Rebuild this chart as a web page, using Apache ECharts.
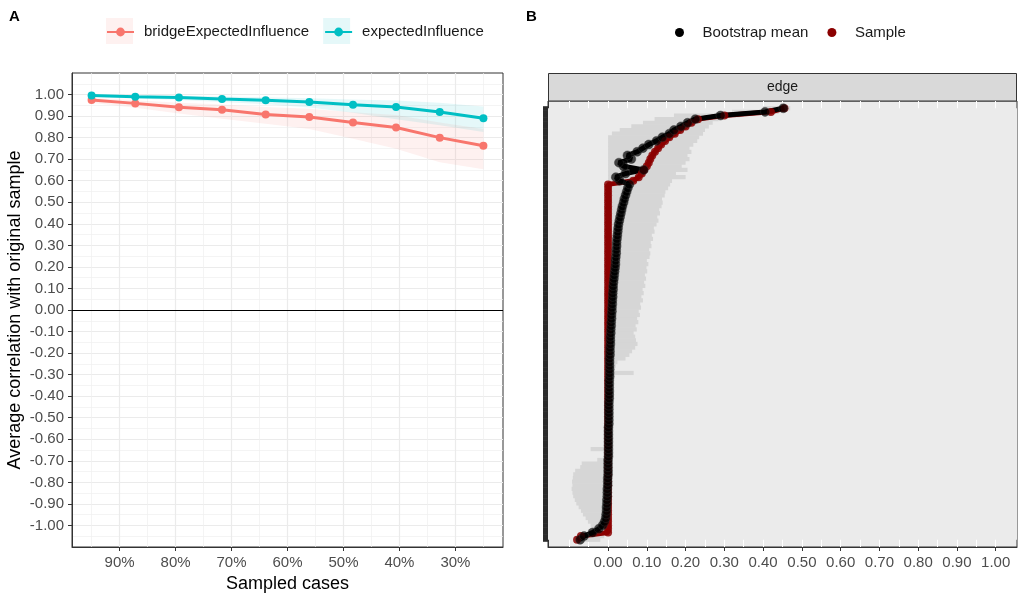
<!DOCTYPE html>
<html>
<head>
<meta charset="utf-8">
<script src="https://cdn.jsdelivr.net/npm/echarts@6/dist/echarts.min.js"></script>
<style>
  html, body { margin: 0; padding: 0; background: #fff; }
  #chart { width: 1021px; height: 598px; }
</style>
</head>
<body>
<div id="chart"></div>
<script>
// ---- Panel A: case-dropping stability (average correlation with original sample)
const sampledCases = [95.0, 87.2, 79.4, 71.7, 63.9, 56.1, 48.3, 40.6, 32.8, 25.0];
const bridgeCor = [0.975, 0.959, 0.941, 0.929, 0.907, 0.896, 0.870, 0.847, 0.800, 0.762];
const bridgeLo  = [0.962, 0.939, 0.912, 0.888, 0.865, 0.840, 0.795, 0.748, 0.686, 0.653];
const bridgeHi  = [0.984, 0.974, 0.962, 0.954, 0.942, 0.934, 0.918, 0.905, 0.870, 0.840];
const eiCor = [0.995, 0.990, 0.986, 0.979, 0.974, 0.965, 0.953, 0.942, 0.919, 0.890];
const eiLo  = [0.990, 0.982, 0.975, 0.965, 0.955, 0.940, 0.915, 0.885, 0.858, 0.826];
const eiHi  = [0.998, 0.996, 0.994, 0.991, 0.988, 0.983, 0.977, 0.972, 0.962, 0.944];
const xTicksA = [90, 80, 70, 60, 50, 40, 30];
const xGridMinorA = [95, 85, 75, 65, 55, 45, 35, 25];
const yTicksA = [-1.0, -0.9, -0.8, -0.7, -0.6, -0.5, -0.4, -0.3, -0.2, -0.1, 0.0,
                 0.1, 0.2, 0.3, 0.4, 0.5, 0.6, 0.7, 0.8, 0.9, 1.0];

// ---- Panel B: edge weights, edges ordered by sample value (bottom -> top)
const edgeSample = [
  -0.080, -0.070, 0.000, 0.000, 0.000, 0.000, 0.000, 0.000, 0.000, 0.000,
  0.000, 0.000, 0.000, 0.000, 0.000, 0.000, 0.000, 0.000, 0.000, 0.000,
  0.000, 0.000, 0.000, 0.000, 0.000, 0.000, 0.000, 0.000, 0.000, 0.000,
  0.000, 0.000, 0.000, 0.000, 0.000, 0.000, 0.000, 0.000, 0.000, 0.000,
  0.000, 0.000, 0.000, 0.000, 0.000, 0.000, 0.000, 0.000, 0.000, 0.000,
  0.000, 0.000, 0.000, 0.000, 0.000, 0.000, 0.000, 0.000, 0.000, 0.000,
  0.000, 0.000, 0.000, 0.000, 0.000, 0.000, 0.000, 0.000, 0.000, 0.000,
  0.000, 0.000, 0.000, 0.000, 0.000, 0.000, 0.000, 0.000, 0.000, 0.000,
  0.000, 0.000, 0.000, 0.000, 0.000, 0.000, 0.000, 0.000, 0.000, 0.000,
  0.000, 0.000, 0.000, 0.000, 0.000, 0.000, 0.000, 0.000, 0.000, 0.065,
  0.079, 0.087, 0.093, 0.100, 0.105, 0.109, 0.114, 0.121, 0.129, 0.137,
  0.147, 0.158, 0.172, 0.186, 0.200, 0.215, 0.232, 0.300, 0.420, 0.455
];
const edgeBootMean = [
  -0.072, -0.062, -0.040, -0.024, -0.014, -0.009, -0.006, -0.005, -0.004, -0.004,
  -0.003, -0.003, -0.002, -0.002, -0.002, -0.001, -0.001, -0.001, 0.000, 0.000,
  0.000, 0.000, 0.000, 0.001, 0.001, 0.001, 0.001, 0.001, 0.001, 0.001,
  0.001, 0.001, 0.002, 0.002, 0.002, 0.002, 0.002, 0.002, 0.002, 0.003,
  0.003, 0.003, 0.003, 0.003, 0.003, 0.004, 0.004, 0.004, 0.004, 0.004,
  0.004, 0.005, 0.005, 0.005, 0.006, 0.006, 0.006, 0.007, 0.007, 0.008,
  0.008, 0.009, 0.009, 0.010, 0.010, 0.011, 0.011, 0.012, 0.012, 0.013,
  0.013, 0.014, 0.015, 0.016, 0.017, 0.018, 0.019, 0.019, 0.020, 0.021,
  0.021, 0.022, 0.022, 0.023, 0.024, 0.025, 0.026, 0.027, 0.029, 0.031,
  0.033, 0.035, 0.037, 0.040, 0.042, 0.045, 0.048, 0.051, 0.055, 0.030,
  0.020, 0.045, 0.092, 0.040, 0.028, 0.060, 0.050, 0.075, 0.090, 0.105,
  0.125, 0.140, 0.158, 0.170, 0.188, 0.205, 0.225, 0.290, 0.405, 0.452
];
const edgeCiLo = [
  -0.080, -0.072, -0.050, -0.042, -0.045, -0.052, -0.058, -0.065, -0.070, -0.076,
  -0.082, -0.086, -0.090, -0.092, -0.094, -0.092, -0.093, -0.091, -0.090, -0.085,
  -0.072, -0.068, -0.028, 0.000, 0.000, -0.045, 0.000, 0.000, 0.000, 0.000,
  0.000, 0.000, 0.000, 0.000, 0.000, 0.000, 0.000, 0.000, 0.000, 0.000,
  0.000, 0.000, 0.000, 0.000, 0.000, 0.000, 0.000, 0.000, 0.000, 0.000,
  0.000, 0.000, 0.000, 0.000, 0.000, 0.000, 0.000, 0.000, 0.000, 0.000,
  0.000, 0.000, 0.000, 0.000, 0.000, 0.000, 0.000, 0.000, 0.000, 0.000,
  0.000, 0.000, 0.000, 0.000, 0.000, 0.000, 0.000, 0.000, 0.000, 0.000,
  0.000, 0.000, 0.000, 0.000, 0.000, 0.000, 0.000, 0.000, 0.000, 0.000,
  0.000, 0.000, 0.000, 0.000, 0.000, 0.000, 0.000, 0.000, 0.000, 0.000,
  0.000, 0.000, 0.000, 0.000, 0.000, 0.000, 0.000, 0.000, 0.000, 0.000,
  0.000, 0.000, 0.010, 0.030, 0.060, 0.090, 0.120, 0.170, 0.320, 0.400
];
const edgeCiHi = [
  -0.020, -0.010, 0.000, 0.000, 0.000, 0.000, 0.000, 0.000, 0.000, 0.000,
  0.000, 0.000, 0.000, 0.000, 0.000, 0.000, 0.000, 0.000, 0.000, 0.000,
  0.000, 0.000, 0.000, 0.008, 0.009, 0.010, 0.010, 0.011, 0.010, 0.012,
  0.011, 0.012, 0.013, 0.012, 0.013, 0.014, 0.013, 0.014, 0.015, 0.014,
  0.015, 0.016, 0.015, 0.016, 0.016, 0.017, 0.066, 0.018, 0.020, 0.024,
  0.045, 0.055, 0.062, 0.070, 0.076, 0.072, 0.070, 0.066, 0.074, 0.071,
  0.078, 0.075, 0.082, 0.079, 0.085, 0.083, 0.090, 0.086, 0.092, 0.089,
  0.096, 0.093, 0.098, 0.095, 0.101, 0.099, 0.104, 0.100, 0.107, 0.109,
  0.106, 0.112, 0.110, 0.116, 0.113, 0.120, 0.118, 0.125, 0.130, 0.127,
  0.134, 0.132, 0.138, 0.141, 0.139, 0.146, 0.148, 0.155, 0.160, 0.165,
  0.200, 0.175, 0.205, 0.190, 0.200, 0.210, 0.205, 0.215, 0.210, 0.220,
  0.230, 0.235, 0.245, 0.250, 0.260, 0.270, 0.285, 0.340, 0.440, 0.470
];
const xTicksB = [0.0, 0.1, 0.2, 0.3, 0.4, 0.5, 0.6, 0.7, 0.8, 0.9, 1.0];
const xGridB = [-0.10, -0.05, 0.00, 0.05, 0.10, 0.15, 0.20, 0.25, 0.30, 0.35, 0.40, 0.45,
                0.50, 0.55, 0.60, 0.65, 0.70, 0.75, 0.80, 0.85, 0.90, 0.95, 1.00];

const FONT = "'Liberation Sans', Arial, sans-serif";
const RED = '#F8766D', TEAL = '#00BFC4';
const X_MIN_B = -0.155, X_MAX_B = 1.055;
const fix2 = v => (Math.abs(v) < 1e-9 ? 0 : v).toFixed(2);
const edgeIndex = edgeSample.map((_, i) => i);

// one polygon per band, drawn on the first item from all of the series' values
function bandRenderer(fill) {
  return function (params, api) {
    if (params.dataIndexInside !== 0) return null;
    const n = params.dataInsideLength;
    const upper = [], lower = [];
    for (let k = 0; k < n; k++) {
      upper.push(api.coord([api.value(0, k), api.value(2, k)]));
      lower.push(api.coord([api.value(0, k), api.value(1, k)]));
    }
    return { type: 'polygon', silent: true,
             shape: { points: upper.concat(lower.reverse()) }, style: { fill } };
  };
}

function ciBarRenderer(params, api) {
  const y = api.value(2);
  const p1 = api.coord([api.value(0), y]);
  const p2 = api.coord([api.value(1), y]);
  const h = api.size([0, 1])[1] + 0.6;
  return { type: 'rect', silent: true,
           shape: { x: p1[0], y: p1[1] - h / 2, width: Math.max(p2[0] - p1[0], 0), height: h },
           style: { fill: '#D6D6D6' } };
}

const gridLineCommon = { silent: true, symbol: ['none', 'none'], label: { show: false },
                         emphasis: { disabled: true }, animation: false };

const axisText = { color: '#4D4D4D', fontSize: 15, fontFamily: FONT };
const axisLineStyle = { show: true, onZero: false, lineStyle: { color: '#333' } };

const option = {
  animation: false,
  textStyle: { fontFamily: FONT },
  legend: [
    { // pale ribbon squares behind the A keys
      left: 106, top: 18, padding: 0, itemGap: 15, itemWidth: 27, itemHeight: 26,
      icon: 'rect', selectedMode: false,
      data: ['bridgeExpectedInfluence CI', 'expectedInfluence CI'],
      formatter: n => n.replace(' CI', ''),
      textStyle: { color: 'rgba(0,0,0,0)', fontSize: 15, padding: [0, 0, 0, 5] }
    },
    {
      left: 106, top: 24.5, padding: 0, itemGap: 15, itemWidth: 27, itemHeight: 11,
      selectedMode: false,
      data: ['bridgeExpectedInfluence', 'expectedInfluence'],
      textStyle: { color: '#1A1A1A', fontSize: 15, padding: [0, 0, 0, 5] }
    },
    {
      left: 675, top: 25, padding: 0, itemGap: 19, itemWidth: 36, itemHeight: 9,
      icon: 'circle', selectedMode: false,
      data: [
        { name: 'Bootstrap mean', itemStyle: { color: '#000', opacity: 1, borderWidth: 0 } },
        { name: 'Sample', itemStyle: { color: '#8B0000', opacity: 1, borderWidth: 0 } }
      ],
      textStyle: { color: '#1A1A1A', fontSize: 15 }
    }
  ],
  grid: [
    { left: 72, top: 73, width: 431, height: 474, show: true,
      backgroundColor: '#fff', borderColor: '#333', borderWidth: 1 },
    { left: 548, top: 101, width: 469, height: 446, show: true,
      backgroundColor: '#EBEBEB', borderColor: '#333', borderWidth: 1 }
  ],
  xAxis: [
    { gridIndex: 0, type: 'value', inverse: true, min: 21.5, max: 98.5,
      axisLine: axisLineStyle,
      axisTick: { show: true, customValues: xTicksA, length: 4, lineStyle: { color: '#333' } },
      axisLabel: { customValues: xTicksA, formatter: v => v + '%', margin: 8, ...axisText },
      splitLine: { show: false },
      name: 'Sampled cases', nameLocation: 'middle', nameGap: 26,
      nameTextStyle: { color: '#000', fontSize: 18, fontFamily: FONT } },
    { gridIndex: 1, type: 'value', min: X_MIN_B, max: X_MAX_B,
      axisLine: axisLineStyle,
      axisTick: { show: true, customValues: xTicksB, length: 4, lineStyle: { color: '#333' } },
      axisLabel: { customValues: xTicksB, formatter: fix2, margin: 8, ...axisText },
      splitLine: { show: false } }
  ],
  yAxis: [
    { gridIndex: 0, type: 'value', min: -1.1, max: 1.1, interval: 0.1,
      axisLine: axisLineStyle,
      axisTick: { show: true, customValues: yTicksA, length: 4, lineStyle: { color: '#333' } },
      axisLabel: { customValues: yTicksA, formatter: fix2, margin: 8, ...axisText },
      splitLine: { show: true, lineStyle: { color: '#EBEBEB', width: 1.2 } },
      minorTick: { show: false, splitNumber: 2 },
      minorSplitLine: { show: true, lineStyle: { color: '#EFEFEF', width: 0.7 } },
      name: 'Average correlation with original sample', nameLocation: 'middle', nameGap: 48,
      nameTextStyle: { color: '#000', fontSize: 18, fontFamily: FONT } },
    { gridIndex: 1, type: 'value', min: -2, max: edgeSample.length + 1,
      axisLine: axisLineStyle,
      // one tick per edge: dense enough to merge into a solid bar
      axisTick: { show: true, customValues: edgeIndex, length: 5,
                  lineStyle: { color: '#2B2B2B', width: 4.6 } },
      axisLabel: { show: false },
      splitLine: { show: false } }
  ],
  series: [
    // ---- A
    { name: 'bridgeExpectedInfluence CI', type: 'custom', xAxisIndex: 0, yAxisIndex: 0, z: 2,
      itemStyle: { color: 'rgba(248,118,109,0.1)' },
      renderItem: bandRenderer('rgba(248,118,109,0.1)'),
      encode: { x: 0, y: [1, 2] },
      data: sampledCases.map((x, i) => [x, bridgeLo[i], bridgeHi[i]]),
      markLine: { ...gridLineCommon, z: 1,
        data: xGridMinorA.map(v => ({ xAxis: v, lineStyle: { color: '#EFEFEF', width: 0.7, type: 'solid' } }))
          .concat(xTicksA.map(v => ({ xAxis: v, lineStyle: { color: '#EBEBEB', width: 1.2, type: 'solid' } })))
          .concat([{ yAxis: 0, lineStyle: { color: '#000', width: 1.2, type: 'solid' } }]) } },
    { name: 'expectedInfluence CI', type: 'custom', xAxisIndex: 0, yAxisIndex: 0, z: 2,
      itemStyle: { color: 'rgba(0,191,196,0.1)' },
      renderItem: bandRenderer('rgba(0,191,196,0.1)'),
      encode: { x: 0, y: [1, 2] },
      data: sampledCases.map((x, i) => [x, eiLo[i], eiHi[i]]) },
    { name: 'bridgeExpectedInfluence', type: 'line', xAxisIndex: 0, yAxisIndex: 0, z: 3,
      symbol: 'circle', symbolSize: 8, color: RED, lineStyle: { width: 3 },
      data: sampledCases.map((x, i) => [x, bridgeCor[i]]) },
    { name: 'expectedInfluence', type: 'line', xAxisIndex: 0, yAxisIndex: 0, z: 3,
      symbol: 'circle', symbolSize: 8, color: TEAL, lineStyle: { width: 3 },
      data: sampledCases.map((x, i) => [x, eiCor[i]]) },
    // ---- B
    { name: 'edge CI', type: 'custom', xAxisIndex: 1, yAxisIndex: 1, z: 2,
      renderItem: ciBarRenderer,
      encode: { x: [0, 1], y: 2 },
      data: edgeIndex.map(i => [edgeCiLo[i], edgeCiHi[i], i]),
      markLine: { ...gridLineCommon, z: 1,
        data: xGridB.map(v => ({ xAxis: v, lineStyle: { color: '#fff', width: 1, type: 'solid' } })) },
      markArea: { silent: true, z: 1.5, itemStyle: { color: '#EBEBEB' }, label: { show: false },
        data: [[{ coord: [X_MIN_B, 0] }, { coord: [X_MAX_B, edgeSample.length - 1] }]] } },
    { name: 'Sample', type: 'line', xAxisIndex: 1, yAxisIndex: 1, z: 3,
      symbol: 'circle', symbolSize: 8,
      itemStyle: { color: '#8B0000', opacity: 0.85 }, lineStyle: { color: '#8B0000', width: 5 },
      data: edgeIndex.map(i => [edgeSample[i], i]) },
    { name: 'Bootstrap mean', type: 'line', xAxisIndex: 1, yAxisIndex: 1, z: 3,
      symbol: 'circle', symbolSize: 9,
      itemStyle: { color: '#000', opacity: 0.7, borderColor: '#333', borderWidth: 0.6 },
      lineStyle: { color: '#000', width: 5 },
      data: edgeIndex.map(i => [edgeBootMean[i], i]) }
  ],
  graphic: [
    { type: 'text', left: 9, top: 9, style: { text: 'A', fontSize: 15, fontWeight: 'bold', fontFamily: FONT, fill: '#000' } },
    { type: 'text', left: 526, top: 9, style: { text: 'B', fontSize: 15, fontWeight: 'bold', fontFamily: FONT, fill: '#000' } },
    { type: 'rect', shape: { x: 548.5, y: 73.5, width: 468, height: 27.5 },
      style: { fill: '#D9D9D9', stroke: '#333', lineWidth: 1 } },
    { type: 'text', x: 782.5, y: 87, style: { text: 'edge', fontSize: 14, fontFamily: FONT,
      fill: '#1A1A1A', align: 'center', verticalAlign: 'middle' } }
  ]
};

const chart = echarts.init(document.getElementById('chart'));
chart.setOption(option);
window.addEventListener('resize', () => chart.resize());
</script>
</body>
</html>
